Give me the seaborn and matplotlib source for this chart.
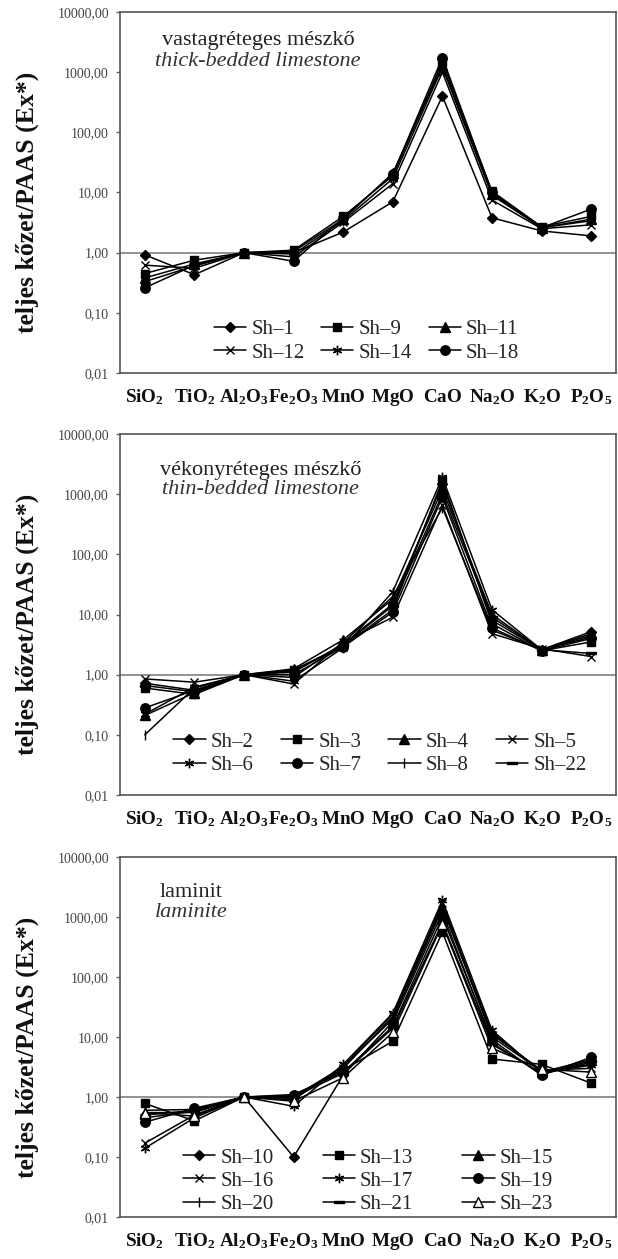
import numpy as np
import pandas as pd
import matplotlib
matplotlib.use("Agg")
import matplotlib.pyplot as plt
import seaborn as sns

# ---------------- data ----------------
oxides = [r"$\mathrm{SiO_2}$", r"$\mathrm{TiO_2}$", r"$\mathrm{Al_2O_3}$", r"$\mathrm{Fe_2O_3}$",
          r"$\mathrm{MnO}$", r"$\mathrm{MgO}$", r"$\mathrm{CaO}$", r"$\mathrm{Na_2O}$",
          r"$\mathrm{K_2O}$", r"$\mathrm{P_2O_5}$"]
ytick_vals = [0.01, 0.1, 1, 10, 100, 1000, 10000]
ytick_labels = ["0,01", "0,10", "1,00", "10,00", "100,00", "1000,00", "10000,00"]

# panel 1: thick-bedded limestone
sh1 = [0.92, 0.43, 1.0, 1.00, 2.2, 7.0, 400, 3.8, 2.3, 1.9]
sh9 = [0.45, 0.75, 1.0, 1.10, 4.0, 19, 1500, 10.5, 2.7, 4.0]
sh11 = [0.38, 0.65, 1.0, 1.05, 3.6, 21, 1300, 9.5, 2.6, 3.6]
sh12 = [0.62, 0.55, 1.0, 0.85, 3.2, 14, 1000, 7.5, 2.5, 2.9]
sh14 = [0.33, 0.60, 1.0, 0.95, 3.4, 17, 1200, 9.0, 2.6, 3.4]
sh18 = [0.26, 0.62, 1.0, 0.72, 3.8, 20, 1750, 10.0, 2.6, 5.3]

# panel 2: thin-bedded limestone
sh2 = [0.72, 0.55, 1.0, 1.10, 3.2, 15, 1500, 8.0, 2.6, 5.2]
sh3 = [0.60, 0.47, 1.0, 1.20, 3.0, 12, 1700, 7.0, 2.5, 3.5]
sh4 = [0.21, 0.50, 1.0, 1.25, 3.8, 18, 1200, 10.0, 2.6, 4.8]
sh5 = [0.85, 0.75, 1.0, 0.70, 3.5, 9, 650, 4.8, 2.7, 2.0]
sh6 = [0.22, 0.62, 1.0, 0.78, 2.8, 24, 1900, 12.0, 2.6, 4.2]
sh7 = [0.28, 0.55, 1.0, 1.00, 2.9, 11, 900, 6.0, 2.5, 4.0]
sh8 = [0.10, 0.60, 1.0, 0.90, 3.4, 20, 600, 5.5, 2.6, 4.5]
sh22 = [0.66, 0.52, 1.0, 1.15, 3.1, 14, 1000, 9.0, 2.6, 2.25]

# panel 3: laminite
sh10 = [0.50, 0.60, 1.0, 0.10, 2.3, 18, 1200, 8.0, 2.4, 3.8]
sh13 = [0.78, 0.40, 1.0, 1.05, 2.8, 8.5, 560, 4.3, 3.5, 1.7]
sh15 = [0.55, 0.55, 1.0, 1.00, 3.2, 20, 1400, 12.0, 2.6, 4.2]
sh16 = [0.17, 0.50, 1.0, 0.95, 3.0, 22, 1700, 11.0, 2.8, 3.0]
sh17 = [0.14, 0.45, 1.0, 0.70, 3.5, 25, 1900, 13.0, 2.5, 3.4]
sh19 = [0.38, 0.65, 1.0, 1.10, 2.6, 15, 1000, 9.0, 2.3, 4.6]
sh20 = [0.60, 0.62, 1.0, 0.90, 3.3, 24, 1500, 10.0, 2.7, 3.5]
sh21 = [0.45, 0.58, 1.0, 1.00, 2.5, 14, 800, 7.5, 2.5, 4.0]
sh23 = [0.55, 0.48, 1.0, 0.85, 2.1, 12, 750, 6.5, 2.9, 2.6]

panel1_names = ["Sh\u20131", "Sh\u20139", "Sh\u201311", "Sh\u201312", "Sh\u201314", "Sh\u201318"]
panel1_series = [sh1, sh9, sh11, sh12, sh14, sh18]
panel2_names = ["Sh\u20132", "Sh\u20133", "Sh\u20134", "Sh\u20135",
                "Sh\u20136", "Sh\u20137", "Sh\u20138", "Sh\u201322"]
panel2_series = [sh2, sh3, sh4, sh5, sh6, sh7, sh8, sh22]
panel3_names = ["Sh\u201310", "Sh\u201313", "Sh\u201315", "Sh\u201316", "Sh\u201317",
                "Sh\u201319", "Sh\u201320", "Sh\u201321", "Sh\u201323"]
panel3_series = [sh10, sh13, sh15, sh16, sh17, sh19, sh20, sh21, sh23]

titles_hu = ["vastagréteges mészkő", "vékonyréteges mészkő", "laminit"]
titles_en = ["thick-bedded limestone", "thin-bedded limestone", "laminite"]
ylabel = "teljes kőzet/PAAS (Ex*)"

# ---------------- style ----------------
sns.set_theme(style="white")
plt.rcParams["font.family"] = ["Liberation Serif", "DejaVu Serif"]
plt.rcParams["mathtext.fontset"] = "custom"
plt.rcParams["mathtext.rm"] = "Liberation Serif:bold"
plt.rcParams["mathtext.it"] = "Liberation Serif:italic:bold"
plt.rcParams["mathtext.bf"] = "Liberation Serif:bold"

dash_marker = [(-1, -0.3), (1, -0.3), (1, 0.3), (-1, 0.3), (-1, -0.3)]
asterisk = (6, 2, 0)
mk = {
    "diamond": dict(marker="D", markersize=4.8, markerfacecolor="black"),
    "square": dict(marker="s", markersize=6.2, markerfacecolor="black"),
    "triangle": dict(marker="^", markersize=6.8, markerfacecolor="black"),
    "x": dict(marker="x", markersize=6, markerfacecolor="black"),
    "asterisk": dict(marker=asterisk, markersize=6.8, markerfacecolor="black"),
    "circle": dict(marker="o", markersize=6.8, markerfacecolor="black"),
    "plus": dict(marker="|", markersize=7, markerfacecolor="black"),
    "dash": dict(marker=dash_marker, markersize=7, markerfacecolor="black"),
    "opentri": dict(marker="^", markersize=6.8, markerfacecolor="white"),
}
p1_markers = ["diamond", "square", "triangle", "x", "asterisk", "circle"]
p2_markers = ["diamond", "square", "triangle", "x", "asterisk", "circle", "plus", "dash"]
p3_markers = ["diamond", "square", "triangle", "x", "asterisk", "circle", "plus", "dash", "opentri"]

W, H = 618, 1259
fig = plt.figure(figsize=(W / 100, H / 100), dpi=100)


def px_axes(left, right, top, bottom):
    return fig.add_axes([left / W, 1 - bottom / H, (right - left) / W, (bottom - top) / H])


panels = [
    dict(box=(120, 616, 12, 373), names=panel1_names, series=panel1_series, markers=p1_markers,
         ncol=3, leg=(0.497, 0.088), colsp=0.8, tpos=(0.278, 0.92, 0.864)),
    dict(box=(120, 616, 434, 795), names=panel2_names, series=panel2_series, markers=p2_markers,
         ncol=4, leg=(0.524, 0.115), colsp=1.3, tpos=(0.284, 0.90, 0.845)),
    dict(box=(120, 616, 857, 1217), names=panel3_names, series=panel3_series, markers=p3_markers,
         ncol=3, leg=(0.5, 0.10), colsp=2.35, tpos=(0.143, 0.90, 0.845)),
]

xpos = np.arange(len(oxides))

for i, p in enumerate(panels):
    ax = px_axes(*p["box"])
    ax.axhline(1.0, color="#808080", lw=1.2, zorder=1)
    for name, vals, m in zip(p["names"], p["series"], p["markers"]):
        df = pd.DataFrame({"x": xpos, "y": vals})
        sns.lineplot(data=df, x="x", y="y", ax=ax, color="black", lw=1.1,
                     markeredgecolor="black", markeredgewidth=1.0, label=name,
                     zorder=3, **mk[m])
    hs, ls = ax.get_legend_handles_labels()
    n = len(hs)
    ncol = p["ncol"]
    nrow = int(np.ceil(n / ncol))
    order = [r * ncol + c for c in range(ncol) for r in range(nrow) if r * ncol + c < n]
    ax.legend([hs[k] for k in order], [ls[k] for k in order], ncol=ncol, loc="center",
              bbox_to_anchor=p["leg"], frameon=False, fontsize=15, handlelength=1.55,
              handletextpad=0.25, columnspacing=p["colsp"], labelspacing=0.17,
              borderpad=0.0)
    ax.set_yscale("log")
    ax.set_ylim(0.01, 10000)
    ax.set_xlim(-0.5, len(oxides) - 0.5)
    ax.set_yticks(ytick_vals)
    ax.set_yticklabels(ytick_labels)
    ax.yaxis.set_minor_locator(matplotlib.ticker.NullLocator())
    ax.set_xticks(xpos)
    ax.set_xticklabels(oxides)
    ax.tick_params(axis="x", length=0, pad=21, labelsize=13.8, colors="#111111")
    for lab in ax.get_xticklabels():
        lab.set_verticalalignment("baseline")
    ax.tick_params(axis="y", left=True, length=3, width=1, color="#666666", pad=5,
                   labelsize=10, labelcolor="#444444")
    for s in ax.spines.values():
        s.set_color("#555555")
        s.set_linewidth(1.2)
        s.set_visible(True)
    ax.set_xlabel("")
    ax.set_ylabel("")
    tx, ty1, ty2 = p["tpos"]
    ax.text(tx, ty1, titles_hu[i], transform=ax.transAxes, ha="center", va="center",
            fontsize=16, color="#222222")
    ax.text(tx, ty2, titles_en[i], transform=ax.transAxes, ha="center", va="center",
            fontsize=16, style="italic", color="#333333")
    box = p["box"]
    fig.text(27 / W, 1 - ((box[2] + box[3]) / 2 + 10) / H, ylabel, rotation=90,
             ha="center", va="center", fontsize=18.5, fontweight="bold", color="#111111")

fig.savefig("out.png", dpi=100, facecolor="white")
